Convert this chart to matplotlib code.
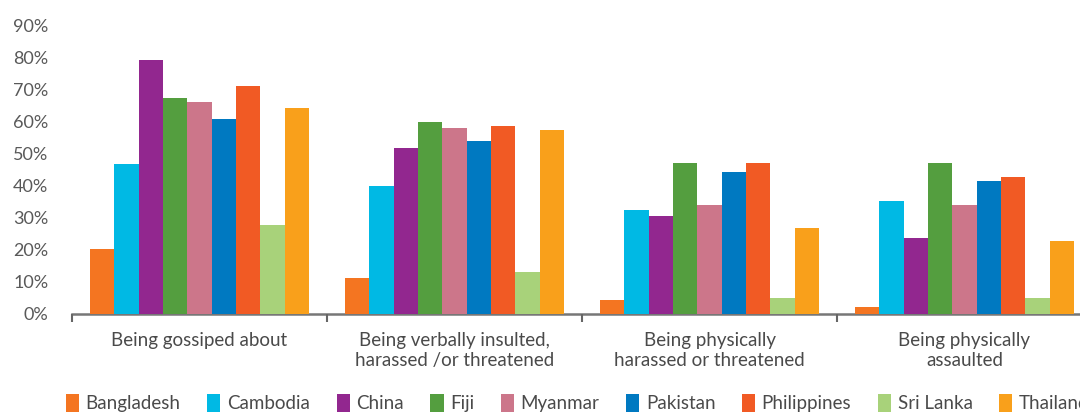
import numpy as np
import matplotlib.pyplot as plt

# categories and series (share of respondents)
categories = ['Being gossiped about',
              'Being verbally insulted,\nharassed /or threatened',
              'Being physically\nharassed or threatened',
              'Being physically\nassaulted']
countries = ['Bangladesh', 'Cambodia', 'China', 'Fiji', 'Myanmar',
             'Pakistan', 'Philippines', 'Sri Lanka', 'Thailand']

bangladesh = [20.2, 11.2, 4.4, 2.2]
cambodia = [46.7, 39.9, 32.4, 35.2]
china = [79.1, 51.7, 30.5, 23.7]
fiji = [67.3, 59.8, 47.0, 47.0]
myanmar = [66.0, 57.9, 34.0, 34.0]
pakistan = [60.7, 53.9, 44.2, 41.4]
philippines = [71.0, 58.6, 47.0, 42.7]
sri_lanka = [27.7, 13.1, 5.0, 5.0]
thailand = [64.2, 57.3, 26.8, 22.7]

series = [bangladesh, cambodia, china, fiji, myanmar,
          pakistan, philippines, sri_lanka, thailand]
colors = ['#F47521', '#00B9E4', '#92278F', '#549E3F', '#CC768A',
          '#0079C1', '#F15A24', '#A8D27A', '#F9A01B']
yticks = [0, 10, 20, 30, 40, 50, 60, 70, 80, 90]

plt.rcParams['font.family'] = ['Lato', 'DejaVu Sans']

fig = plt.figure(figsize=(10.8, 4.12), dpi=100)
# axes extends past the right edge, like the cropped original
ax = fig.add_axes([72 / 1080, 98 / 412, 1020 / 1080, (314 - 25) / 412])

x = np.arange(len(categories))
w = 0.0953
for i, (vals, col) in enumerate(zip(series, colors)):
    ax.bar(x + (i - 4) * w, vals, width=w, color=col, label=countries[i], zorder=1)

ax.set_xlim(-0.5, len(categories) - 0.5)
ax.set_ylim(0, 90)
ax.set_yticks(yticks)
ax.set_yticklabels([f'{t}%' for t in yticks], color='#595959', fontsize=13)
ax.tick_params(axis='y', length=0, pad=17)

ax.set_xticks(np.arange(-0.5, len(categories)), labels=[''] * (len(categories) + 1))
ax.set_xticks(x, labels=categories, minor=True)
ax.tick_params(axis='x', which='major', length=6, width=1.5, color='#666666', direction='out')
ax.tick_params(axis='x', which='minor', length=0, pad=13, labelsize=13.5, labelcolor='#4a4a4a')

for s in ['top', 'right', 'left']:
    ax.spines[s].set_visible(False)
ax.spines['bottom'].set_color('#777777')
ax.spines['bottom'].set_linewidth(1.8)
ax.spines['bottom'].set_zorder(0)

fig.legend(loc='center left', bbox_to_anchor=(66 / 1080, 1 - 403 / 412), ncol=9,
           frameon=False, fontsize=13.5, handlelength=0.7, handleheight=1.1,
           handletextpad=0.35, columnspacing=1.42, labelcolor='#4a4a4a',
           borderaxespad=0, borderpad=0)

fig.savefig('out.png', dpi=100)
